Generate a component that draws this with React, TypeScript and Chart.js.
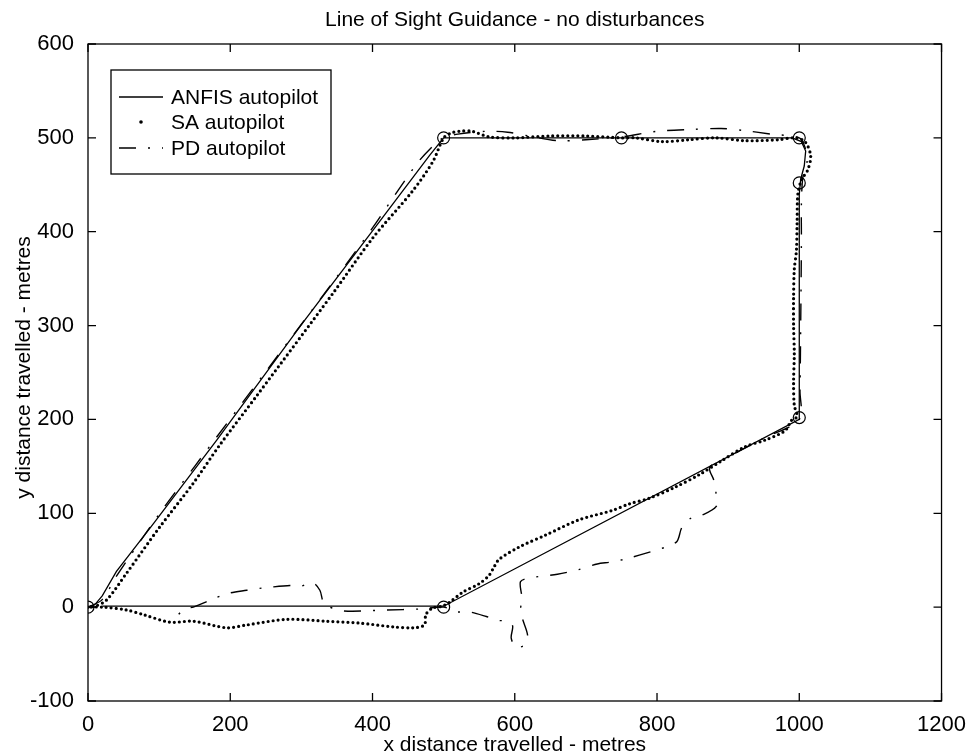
import React, { useEffect, useRef } from "react";
import { Chart, registerables } from "chart.js";

Chart.register(...registerables);

const FONT = '"Liberation Sans", Arial, Helvetica, sans-serif';

const titleText = "Line of Sight Guidance - no disturbances";
const xLabel = "x distance travelled - metres";
const yLabel = "y distance travelled - metres";
const legendLabels = ["ANFIS autopilot", "SA autopilot", "PD autopilot"];

const xTicks = [0, 200, 400, 600, 800, 1000, 1200];
const yTicks = [-100, 0, 100, 200, 300, 400, 500, 600];

// waypoints (circles)
const waypointX = [0, 500, 750, 1000, 1000, 1000, 500];
const waypointY = [0, 500, 500, 500, 452, 202, 0];

// ANFIS autopilot (solid)
const anfisX = [0, 10, 20, 40, 92, 181, 300, 400, 480, 500, 560, 750, 990, 1003, 1009, 1007, 1002, 1000, 1000, 1000, 500, 20];
const anfisY = [0, 3, 12, 38, 89, 178, 301, 401, 481, 500, 500, 500, 500, 496, 486, 470, 456, 440, 300, 200, 1, 1];

// SA autopilot (dots)
const saX = [0, 10, 26, 54, 101, 148, 185, 239, 344, 400, 457, 485, 500, 510, 522, 540, 564, 600, 650, 700, 750, 770, 807, 845, 882, 924, 971, 993, 1008, 1016, 1012, 1003, 998, 997, 996, 993, 992, 992, 993, 992, 993, 997, 989, 980, 952, 924, 891, 859, 826, 789, 761, 737, 690, 644, 606, 578, 571, 564, 550, 527, 508, 498, 484, 475, 473, 457, 429, 382, 335, 279, 223, 195, 148, 115, 78, 54, 22, 0];
const saY = [0, 1, 7.5, 36, 85.5, 132, 172.5, 227, 334, 393, 444, 475, 500, 505, 507, 507, 501, 500, 502, 502, 500, 500, 496, 498, 500, 497, 498, 500, 496, 481, 466, 455, 440, 410, 380, 360, 330, 300, 270, 240, 215, 203, 199, 188, 178, 171, 156, 141, 128, 116, 110, 103, 93, 77, 64, 51, 43, 34, 25, 16, 5, 1, -1, -8, -19, -22, -21, -17, -15, -13, -19, -22, -15, -16, -8, -3, 0, 0];

// PD autopilot (dash-dot)
const pdX = [0, 20, 40, 100, 150, 250, 350, 400, 436, 465, 490, 500, 520, 560, 590, 620, 660, 700, 750, 800, 850, 890, 920, 960, 1000, 1008, 1011, 1005, 1003, 1003, 1002, 1001, 1000, 950, 900, 874, 880, 883, 883, 863, 848, 835, 828, 812, 796, 754, 735, 716, 690, 660, 620, 608, 610, 608, 612, 618, 614, 602, 595, 597, 590, 575, 560, 536, 519, 500, 466, 420, 358, 335, 330, 326, 316, 298, 284, 253, 241, 223, 199, 175, 148, 139, 127, 122];
const pdY = [0, 8, 33, 99, 150, 251, 352, 404, 444, 475, 495, 500, 504, 507, 506, 502, 497, 498, 501, 507, 509, 510, 508, 504, 500, 490, 475, 458, 430, 390, 300, 230, 200, 180, 160, 149, 135, 121, 107, 98, 95, 85, 70, 64, 60, 51, 48, 46, 40, 35, 31, 27, 10, -5, -15, -30, -40, -43, -33, -20, -15, -14, -10, -5, -5, 0, -2, -3, -4, 2, 7, 18, 26, 22, 23, 21, 20, 18, 15, 8.5, 0, -1, -8, -16];

const PD_DASH = [17, 12, 2, 12];

const toPoints = (xs: number[], ys: number[]) => xs.map((x, i) => ({ x, y: ys[i] }));

const decorPlugin = {
  id: "decor",
  afterDraw(chart: any) {
    const { ctx, chartArea: a, scales } = chart;
    ctx.save();
    ctx.strokeStyle = "#000";
    ctx.fillStyle = "#000";
    ctx.lineWidth = 1.3;
    ctx.setLineDash([]);
    ctx.strokeRect(a.left, a.top, a.right - a.left, a.bottom - a.top);
    const L = 8;
    ctx.beginPath();
    for (const v of xTicks) {
      const px = scales.x.getPixelForValue(v);
      ctx.moveTo(px, a.bottom);
      ctx.lineTo(px, a.bottom - L);
      ctx.moveTo(px, a.top);
      ctx.lineTo(px, a.top + L);
    }
    for (const v of yTicks) {
      const py = scales.y.getPixelForValue(v);
      ctx.moveTo(a.left, py);
      ctx.lineTo(a.left + L, py);
      ctx.moveTo(a.right, py);
      ctx.lineTo(a.right - L, py);
    }
    ctx.stroke();

    ctx.font = `21px ${FONT}`;
    ctx.textAlign = "center";
    ctx.textBaseline = "alphabetic";
    const cx = (a.left + a.right) / 2;
    ctx.fillText(titleText, cx, 26);
    ctx.fillText(xLabel, cx, 751);
    ctx.save();
    ctx.translate(30, (a.top + a.bottom) / 2 - 5);
    ctx.rotate(-Math.PI / 2);
    ctx.fillText(yLabel, 0, 0);
    ctx.restore();

    // legend
    const bx = 111, by = 70, bw = 220, bh = 104;
    ctx.fillStyle = "#fff";
    ctx.fillRect(bx, by, bw, bh);
    ctx.fillStyle = "#000";
    ctx.lineWidth = 1.3;
    ctx.strokeRect(bx, by, bw, bh);
    const rows = [97, 122, 148];
    ctx.beginPath();
    ctx.lineWidth = 1.3;
    ctx.moveTo(119, rows[0]);
    ctx.lineTo(163, rows[0]);
    ctx.stroke();
    ctx.beginPath();
    ctx.arc(141, rows[1], 1.8, 0, Math.PI * 2);
    ctx.fill();
    ctx.beginPath();
    ctx.setLineDash(PD_DASH);
    ctx.lineWidth = 1.4;
    ctx.moveTo(119, rows[2]);
    ctx.lineTo(163, rows[2]);
    ctx.stroke();
    ctx.setLineDash([]);
    ctx.textAlign = "left";
    ctx.font = `21px ${FONT}`;
    legendLabels.forEach((t, i) => ctx.fillText(t, 171, rows[i] + 7));
    ctx.restore();
  },
};

export default function App() {
  const ref = useRef<HTMLCanvasElement | null>(null);
  useEffect(() => {
    if (!ref.current) return;
    const tickFont = { family: FONT, size: 22 };
    const chart = new Chart(ref.current, {
      type: "scatter",
      data: {
        datasets: [
          {
            label: legendLabels[0],
            data: toPoints(anfisX, anfisY),
            showLine: true,
            borderColor: "#000",
            borderWidth: 1.3,
            pointRadius: 0,
            tension: 0,
          },
          {
            label: legendLabels[1],
            data: toPoints(saX, saY),
            showLine: true,
            borderColor: "#000",
            borderWidth: 3.2,
            borderDash: [0, 5],
            borderCapStyle: "round",
            pointRadius: 0,
            tension: 0.3,
          },
          {
            label: legendLabels[2],
            data: toPoints(pdX, pdY),
            showLine: true,
            borderColor: "#000",
            borderWidth: 1.4,
            borderDash: PD_DASH,
            pointRadius: 0,
            tension: 0.3,
          },
          {
            label: "waypoints",
            data: toPoints(waypointX, waypointY),
            showLine: false,
            pointRadius: 6,
            pointBorderWidth: 1.2,
            pointBorderColor: "#000",
            pointBackgroundColor: "rgba(0,0,0,0)",
          },
        ] as any,
      },
      options: {
        responsive: false,
        animation: false,
        events: [],
        layout: { padding: { left: 0, top: 44, right: 26, bottom: 0 } },
        plugins: {
          legend: { display: false },
          tooltip: { enabled: false },
          title: { display: false },
        },
        scales: {
          x: {
            type: "linear",
            min: 0,
            max: 1200,
            grid: { display: false },
            border: { display: false },
            afterBuildTicks: (s: any) => {
              s.ticks = xTicks.map((v) => ({ value: v }));
            },
            afterFit: (s: any) => {
              s.height = 53;
            },
            ticks: {
              font: tickFont,
              color: "#000",
              padding: 3,
              maxRotation: 0,
              autoSkip: false,
              callback: (v: any) => String(v),
            },
          },
          y: {
            type: "linear",
            min: -100,
            max: 600,
            grid: { display: false },
            border: { display: false },
            afterBuildTicks: (s: any) => {
              s.ticks = yTicks.map((v) => ({ value: v }));
            },
            afterFit: (s: any) => {
              s.width = 88;
            },
            ticks: {
              font: tickFont,
              color: "#000",
              padding: 6,
              autoSkip: false,
              callback: (v: any) => String(v),
            },
          },
        },
      } as any,
      plugins: [decorPlugin],
    });
    return () => chart.destroy();
  }, []);
  return (
    <div style={{ position: "absolute", left: 0, top: 0, width: 969, height: 754, background: "#fff" }}>
      <canvas ref={ref} width={969} height={754} style={{ display: "block" }} />
    </div>
  );
}
